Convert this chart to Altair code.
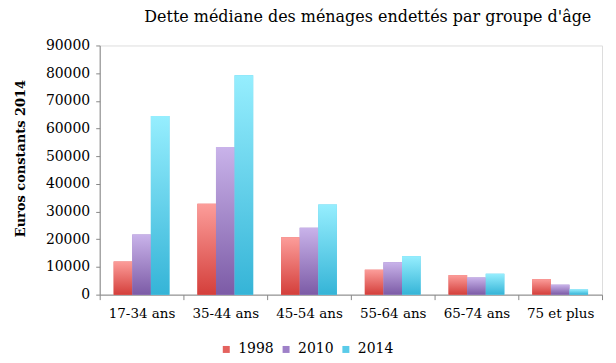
import altair as alt
import pandas as pd

groups = ["17-34 ans", "35-44 ans", "45-54 ans", "55-64 ans", "65-74 ans", "75 et plus"]
years = ["1998", "2010", "2014"]
v1998 = [12000, 32800, 20700, 9000, 7050, 5600]
v2010 = [21700, 53300, 24200, 11700, 6200, 3600]
v2014 = [64500, 79200, 32600, 13900, 7550, 1900]

rows = []
for y, vals in zip(years, [v1998, v2010, v2014]):
    for g, v in zip(groups, vals):
        rows.append({"groupe": g, "annee": y, "valeur": v})
df = pd.DataFrame(rows)

top_colors = ["#FC9D9A", "#C9B3EA", "#96EEFE"]
bottom_colors = ["#D43F3B", "#7C5BA6", "#35B4D7"]
mid_colors = ["#E4625E", "#9E80C8", "#5ACBE9"]

FONT = "DejaVu Serif"

x_enc = alt.X("groupe:N", sort=groups, title=None,
              scale=alt.Scale(paddingInner=0, paddingOuter=0),
              axis=alt.Axis(labelAngle=0, labelFont=FONT, labelFontSize=13.5,
                            labelColor="#000000", labelPadding=7,
                            tickBand="extent", tickSize=5, tickColor="#888888",
                            domainColor="#888888", grid=False))
xo_enc = alt.XOffset("annee:N", sort=years,
                     scale=alt.Scale(paddingOuter=0.75, paddingInner=0))
y_enc = alt.Y("valeur:Q", title="Euros  constants  2014",
              scale=alt.Scale(domain=[0, 90000]),
              axis=alt.Axis(values=list(range(0, 90001, 10000)), format="d",
                            labelFont=FONT, labelFontSize=14, labelColor="#000000",
                            labelPadding=6, tickSize=4, tickColor="#888888",
                            domainColor="#888888", grid=False,
                            titleFont=FONT, titleFontSize=13, titleFontWeight="bold",
                            titleColor="#000000", titleX=-72, titleY=113,
                            titleAngle=270))

base = alt.Chart(df).encode(x=x_enc, xOffset=xo_enc, y=y_enc)

legend_layer = base.mark_bar().encode(
    color=alt.Color("annee:N", sort=years,
                    scale=alt.Scale(domain=years, range=mid_colors),
                    legend=alt.Legend(title=None, orient="none", direction="horizontal",
                                      legendX=120, legendY=298,
                                      symbolType="square", symbolSize=49,
                                      symbolStrokeWidth=0,
                                      labelFont=FONT, labelFontSize=14,
                                      labelColor="#000000", labelOffset=5,
                                      columnPadding=5))
)

layers = [legend_layer]
for i, y in enumerate(years):
    grad = alt.Gradient(
        gradient="linear",
        stops=[alt.GradientStop(color=top_colors[i], offset=0),
               alt.GradientStop(color=bottom_colors[i], offset=1)],
        x1=0, x2=0, y1=0, y2=1,
    )
    layers.append(
        base.transform_filter(alt.datum.annee == y).mark_bar(color=grad)
    )

chart = alt.layer(*layers).properties(
    width=504, height=250,
    title=alt.Title("Dette médiane des ménages endettés par groupe d'âge",
                    font=FONT, fontSize=16, fontWeight="normal", color="#000000",
                    anchor="middle", dx=17, offset=14),
    padding={"left": 7, "top": 0, "right": 5, "bottom": 5},
).configure_view(stroke=None).configure(background="white")

chart.save("out.html", embed_options={"renderer": "svg", "actions": False})
